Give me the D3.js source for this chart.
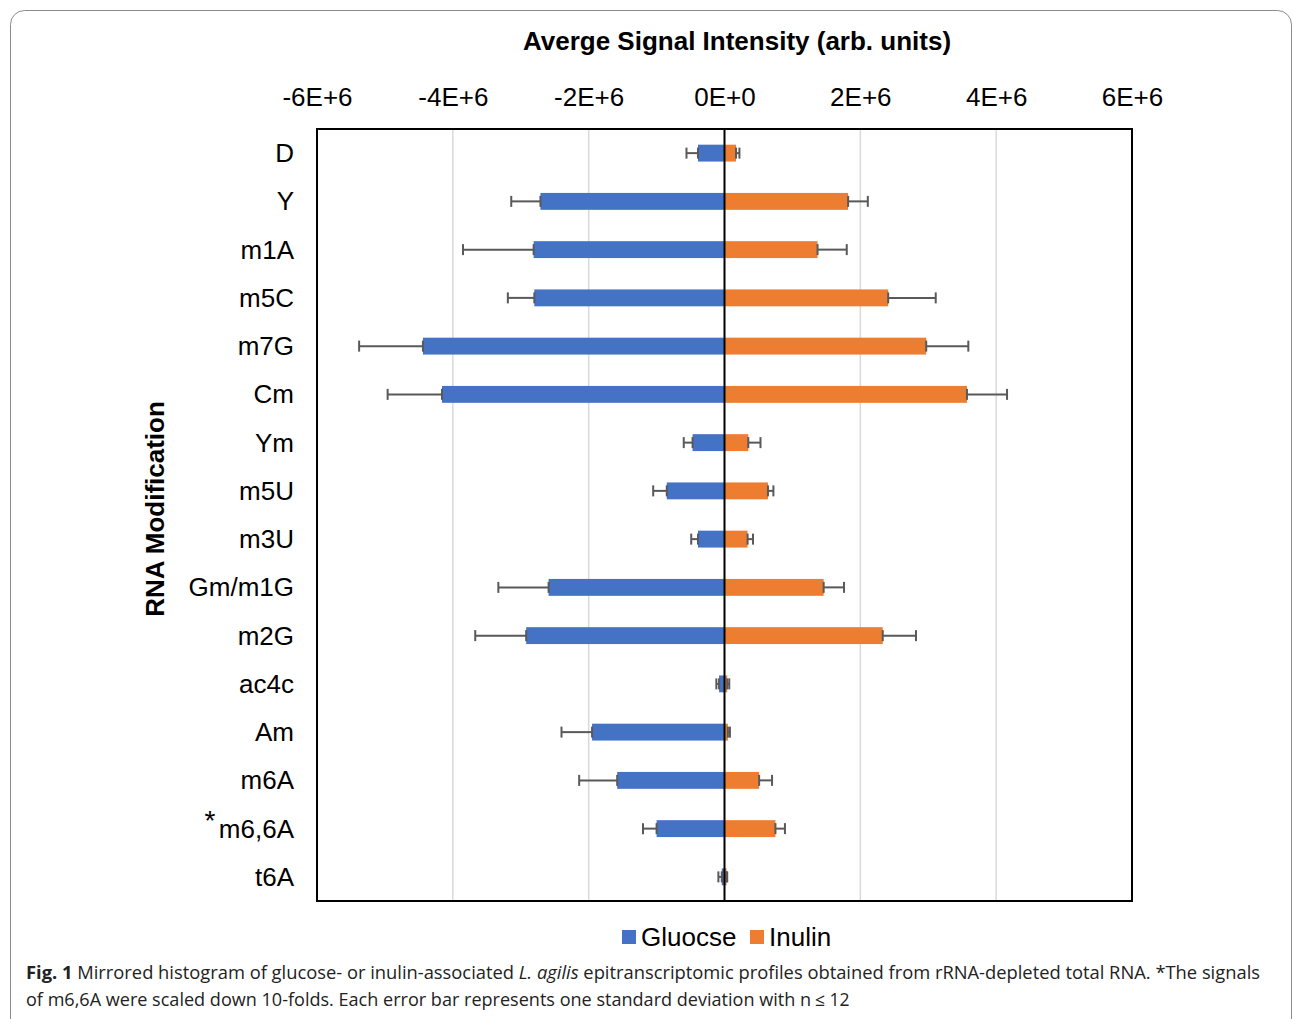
<!DOCTYPE html>
<html>
<head>
<meta charset="utf-8">
<script src="https://cdn.jsdelivr.net/npm/d3@7"></script>
<style>
  html, body { margin: 0; padding: 0; background: #fff; }
  svg { display: block; }
</style>
</head>
<body>
<svg id="chart" width="1293" height="1019"></svg>
<script>
// ---- data (values in units of 1E6) ----
const categories = ["D","Y","m1A","m5C","m7G","Cm","Ym","m5U","m3U","Gm/m1G","m2G","ac4c","Am","m6A","m6,6A","t6A"];
const glucose    = [0.39, 2.71, 2.81, 2.80, 4.44, 4.16, 0.47, 0.85, 0.39, 2.59, 2.92, 0.08, 1.95, 1.58, 1.00, 0.04];
const glucoseErr = [0.17, 0.43, 1.04, 0.39, 0.94, 0.80, 0.13, 0.20, 0.10, 0.74, 0.75, 0.04, 0.45, 0.56, 0.20, 0.05];
const inulin     = [0.17, 1.82, 1.37, 2.41, 2.97, 3.57, 0.35, 0.64, 0.34, 1.46, 2.33, 0.04, 0.05, 0.51, 0.75, 0.03];
const inulinErr  = [0.05, 0.29, 0.43, 0.70, 0.62, 0.59, 0.18, 0.08, 0.08, 0.30, 0.49, 0.03, 0.03, 0.19, 0.14, 0.01];
const tickValues = [-6, -4, -2, 0, 2, 4, 6];
const tickLabels = ["-6E+6","-4E+6","-2E+6","0E+0","2E+6","4E+6","6E+6"];
const seriesNames = ["Gluocse", "Inulin"];
const seriesColors = ["#4472C4", "#ED7D31"];
const titleText = "Averge Signal Intensity (arb. units)";
const yTitle = "RNA Modification";
const captionLine1Rest = " Mirrored histogram of glucose- or inulin-associated ";
const captionLine2 = "of m6,6A were scaled down 10-folds. Each error bar represents one standard deviation with n";

const svg = d3.select("#chart");

// outer rounded frame
svg.append("rect")
  .attr("x", 10.5).attr("y", 10.5).attr("width", 1281).attr("height", 1030)
  .attr("rx", 14).attr("fill", "none").attr("stroke", "#8c8c8c").attr("stroke-width", 1);

const plot = { left: 317, right: 1132, top: 129, bottom: 901 };

const x = d3.scaleLinear().domain([-6, 6]).range([plot.left, plot.right]);
const y = d3.scaleBand().domain(categories).range([plot.top, plot.bottom]).paddingInner(0.65).paddingOuter(0.325);

const sans = "'Liberation Sans', Arial, sans-serif";
const fs = 26;

// gridlines
svg.append("g").selectAll("line")
  .data(tickValues.filter(v => v !== 0 && Math.abs(v) !== 6))
  .join("line")
  .attr("x1", d => x(d)).attr("x2", d => x(d))
  .attr("y1", plot.top).attr("y2", plot.bottom)
  .attr("stroke", "#d9d9d9").attr("stroke-width", 1.5);

// top axis tick labels
const axis = d3.axisTop(x).tickValues(tickValues)
  .tickFormat((d, i) => tickLabels[i]).tickSize(0).tickPadding(0);
const axG = svg.append("g").attr("transform", `translate(0, 106)`).call(axis);
axG.select(".domain").remove();
axG.selectAll("text").attr("font-family", sans).attr("font-size", fs).attr("fill", "#000");

// bars
const bars = svg.append("g");
bars.selectAll("rect.g").data(categories).join("rect").attr("class", "g")
  .attr("x", (d, i) => x(-glucose[i])).attr("width", (d, i) => x(0) - x(-glucose[i]))
  .attr("y", d => y(d)).attr("height", y.bandwidth())
  .attr("fill", seriesColors[0]);
bars.selectAll("rect.i").data(categories).join("rect").attr("class", "i")
  .attr("x", x(0)).attr("width", (d, i) => x(inulin[i]) - x(0))
  .attr("y", d => y(d)).attr("height", y.bandwidth())
  .attr("fill", seriesColors[1]);

// error bars
function errBars(vals, errs, sign) {
  const g = svg.append("g").attr("stroke", "#595959").attr("stroke-width", 2).attr("fill", "none");
  categories.forEach((c, i) => {
    const cy = y(c) + y.bandwidth() / 2;
    const x1 = x(sign * vals[i]), x2 = x(sign * (vals[i] + errs[i]));
    g.append("line").attr("x1", x1).attr("x2", x2).attr("y1", cy).attr("y2", cy);
    g.append("line").attr("x1", x2).attr("x2", x2).attr("y1", cy - 5.5).attr("y2", cy + 5.5);
    g.append("line").attr("x1", x1).attr("x2", x1).attr("y1", cy - 5.5).attr("y2", cy + 5.5);
  });
}
errBars(glucose, glucoseErr, -1);
errBars(inulin, inulinErr, 1);

// zero line
svg.append("line").attr("x1", x(0)).attr("x2", x(0)).attr("y1", plot.top).attr("y2", plot.bottom)
  .attr("stroke", "#000").attr("stroke-width", 2);

// plot border
svg.append("rect").attr("x", plot.left).attr("y", plot.top)
  .attr("width", plot.right - plot.left).attr("height", plot.bottom - plot.top)
  .attr("fill", "none").attr("stroke", "#000").attr("stroke-width", 2);

// category labels
const yAxis = d3.axisLeft(y).tickSize(0).tickPadding(0);
const yG = svg.append("g").attr("transform", `translate(294, 0)`).call(yAxis);
yG.select(".domain").remove();
yG.selectAll("text").attr("font-family", sans).attr("font-size", fs).attr("fill", "#000").attr("dy", "0.35em");
// asterisk marker for m6,6A
svg.append("text").attr("x", 210).attr("y", y("m6,6A") + y.bandwidth() / 2 + 1)
  .attr("text-anchor", "middle").attr("font-family", sans).attr("font-size", 28).text("*");

// titles
svg.append("text").attr("x", 737).attr("y", 50).attr("text-anchor", "middle")
  .attr("font-family", sans).attr("font-size", fs).attr("font-weight", "bold").text(titleText);
svg.append("text").attr("transform", `translate(164, ${(plot.top + plot.bottom) / 2 - 6}) rotate(-90)`)
  .attr("text-anchor", "middle").attr("font-family", sans).attr("font-size", fs).attr("font-weight", "bold").text(yTitle);

// legend
const leg = svg.append("g");
const legX = [622, 750];
seriesNames.forEach((n, i) => {
  leg.append("rect").attr("x", legX[i]).attr("y", 930).attr("width", 14).attr("height", 14).attr("fill", seriesColors[i]);
  leg.append("text").attr("x", legX[i] + 19).attr("y", 946).attr("font-family", sans).attr("font-size", fs).text(n);
});

// caption
const capFont = "'Open Sans', 'Noto Sans', sans-serif";
const c1 = svg.append("text").attr("x", 26).attr("y", 979).attr("font-family", capFont).attr("font-size", 17.5)
  .attr("fill", "#222").attr("textLength", 1234).attr("lengthAdjust", "spacingAndGlyphs");
c1.append("tspan").attr("font-weight", "bold").text("Fig. 1");
c1.append("tspan").text(captionLine1Rest);
c1.append("tspan").attr("font-style", "italic").text("L. agilis");
c1.append("tspan").text(" epitranscriptomic profiles obtained from rRNA-depleted total RNA. *The signals");
svg.append("text").attr("x", 26).attr("y", 1006).attr("font-family", capFont).attr("font-size", 17.5)
  .attr("fill", "#222").attr("textLength", 785).attr("lengthAdjust", "spacingAndGlyphs").text(captionLine2);
svg.append("text").attr("x", 815).attr("y", 1006).attr("font-family", capFont).attr("font-size", 17.5)
  .attr("fill", "#222").text("≤ 12");
</script>
</body>
</html>
